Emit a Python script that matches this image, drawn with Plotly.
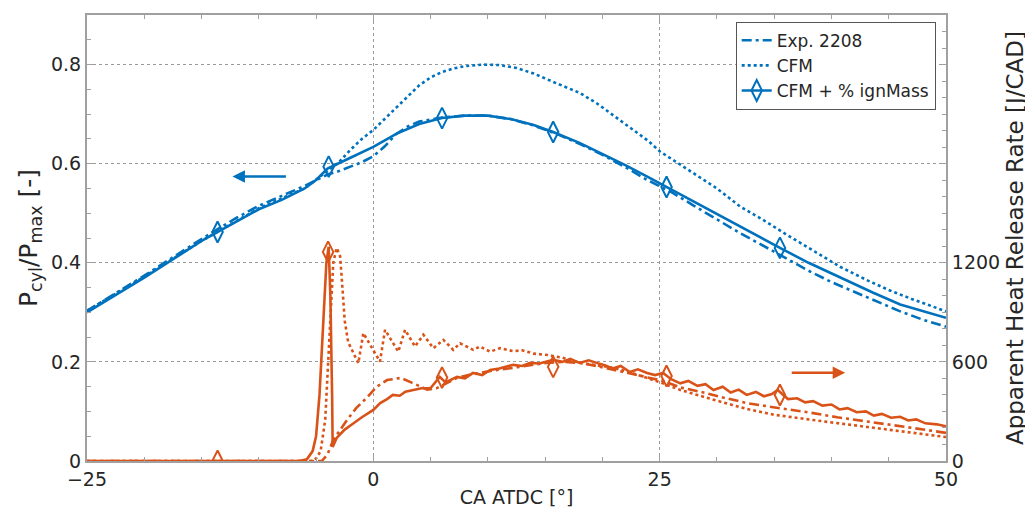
import plotly.graph_objects as go

BLUE = "#0072BD"
ORANGE = "#D95319"

# ---- Pressure (left axis, P_cyl/P_max [-]) ----
exp_p_x = [-25, -20, -15, -12, -10, -8, -6, -4, -3, -2, -1, 0, 1, 2, 3, 4, 6, 8, 10, 12, 14, 16, 18, 20, 22, 24, 26, 28, 30, 32, 35.5, 38, 40, 43.6, 46, 48, 50]
exp_p_y = [0.303, 0.374, 0.448, 0.49, 0.515, 0.535, 0.555, 0.578, 0.585, 0.594, 0.603, 0.615, 0.635, 0.66, 0.675, 0.685, 0.693, 0.697, 0.697, 0.69, 0.677, 0.66, 0.64, 0.618, 0.593, 0.566, 0.543, 0.515, 0.487, 0.46, 0.416, 0.384, 0.361, 0.325, 0.302, 0.285, 0.271]

cfm_p_x = [-25, -20, -15, -10, -6, -4, -3, -2, -1, 0, 1, 2, 3, 4, 5, 6, 7, 8, 9.6, 11, 12.5, 14, 15.5, 17, 18, 19.5, 21, 22.5, 24, 25, 26.8, 28, 30, 32, 34, 36, 38, 40.75, 43, 45, 47, 50]
cfm_p_y = [0.303, 0.372, 0.444, 0.51, 0.55, 0.585, 0.603, 0.628, 0.65, 0.668, 0.69, 0.712, 0.735, 0.758, 0.774, 0.785, 0.792, 0.797, 0.80, 0.799, 0.793, 0.782, 0.767, 0.752, 0.743, 0.722, 0.697, 0.672, 0.646, 0.625, 0.598, 0.58, 0.55, 0.514, 0.487, 0.458, 0.43, 0.392, 0.366, 0.345, 0.327, 0.302]

ign_p_x = [-25, -20, -15, -13.6, -10, -8, -6, -5, -4, -2, 0, 2, 4, 6, 8, 10, 12, 14, 15.7, 18, 20, 22, 24, 25.6, 28, 30, 32, 35.5, 38, 40, 43.6, 46, 48, 50]
ign_p_y = [0.30, 0.37, 0.444, 0.462, 0.508, 0.527, 0.55, 0.567, 0.59, 0.612, 0.634, 0.66, 0.68, 0.692, 0.697, 0.697, 0.69, 0.678, 0.664, 0.642, 0.62, 0.597, 0.573, 0.553, 0.523, 0.498, 0.474, 0.43, 0.40, 0.378, 0.34, 0.316, 0.302, 0.289]

ign_p_mx = [-13.6, -3.9, 6.0, 15.7, 25.6, 35.5]
ign_p_my = [0.462, 0.594, 0.692, 0.664, 0.553, 0.43]

# ---- Apparent heat release rate (right axis, J/CAD) ----
exp_h_x = [-25, -5, -4.5, -4, -3.5, -2.3, -1.5, -0.5, 0.3, 1.2, 2.4, 3.4, 4.7, 5.5, 6.3, 7.3, 8.3, 9.3, 10.5, 12.2, 13.5, 15.1, 16.5, 18.1, 19.5, 21, 22.5, 23.9, 25.3, 26.8, 28.5, 30.5, 32.6, 34.5, 36.5, 38.4, 40.5, 42.3, 44.2, 46.5, 48.3, 50]
exp_h_y = [0, 0, 0, 40, 127, 248, 320, 388, 450, 490, 503, 473, 432, 440, 470, 503, 520, 533, 548, 564, 578, 594, 600, 594, 575, 551, 530, 509, 485, 445, 420, 385, 351, 330, 310, 290, 265, 248, 230, 205, 188, 170]

cfm_h_x = [-25, -5.5, -5.0, -4.6, -4.2, -3.8, -3.5, -3.2, -2.9, -2.7, -2.5, -2.2, -1.74, -1.31, -0.87, 0.58, 1.02, 2.18, 2.77, 3.64, 4.37, 5.24, 6.11, 6.98, 7.57, 8.73, 9.31, 10.19, 11.06, 12.2, 13, 14, 15.2, 16.5, 18.1, 19.5, 21, 22.5, 23.9, 25.3, 26.8, 28, 30, 32.6, 35, 38.4, 41, 44.2, 47, 50]
cfm_h_y = [0, 0, 15, 60, 250, 800, 1200, 1290, 1240, 1050, 850, 720, 652, 592, 774, 602, 794, 662, 794, 693, 764, 683, 733, 673, 713, 673, 693, 662, 683, 665, 670, 650, 642, 625, 594, 580, 564, 535, 503, 470, 430, 405, 365, 315, 280, 248, 225, 200, 172, 145]

ign_h_x = [-25, -6.5, -5.8, -5.3, -5.0, -4.7, -4.4, -4.1, -3.9, -3.75, -3.6, -3.55, -3.2, -2.5, -2.0, -1, 0, 0.6, 1.2, 1.7, 2.3, 2.8, 3.5, 4.2, 5, 5.8, 6.3, 7.3, 8.0, 8.7, 9.5, 10.2, 11, 12.2, 13, 13.7, 14.5, 15.7, 16.5, 17.2, 18, 18.8, 19.5, 20.2, 20.9, 21.6, 22.4, 23.1, 23.9, 24.6, 25.3, 26, 26.8, 27.5, 28.3, 29, 29.7, 30.5, 31.2, 31.9, 32.6, 33.4, 34.1, 34.8, 35.3, 36.2, 37, 37.7, 38.4, 39.2, 40, 40.7, 41.4, 42.2, 43, 43.7, 44.4, 45.2, 46, 46.7, 47.4, 48.2, 49.2, 50]
ign_h_y = [0, 0, 10, 60, 150, 400, 800, 1200, 1297, 1000, 400, 85, 140, 190, 215, 265, 309, 351, 375, 400, 395, 420, 430, 440, 442, 509, 475, 509, 500, 533, 520, 551, 560, 582, 575, 594, 590, 612, 600, 618, 594, 610, 594, 580, 560, 575, 539, 555, 533, 520, 533, 495, 470, 485, 455, 465, 430, 450, 415, 432, 400, 418, 392, 405, 430, 375, 380, 355, 362, 335, 342, 312, 320, 295, 300, 275, 285, 262, 268, 245, 252, 228, 222, 210]

ign_h_mx = [-13.6, -3.95, 6.0, 15.7, 25.6, 35.5]
ign_h_my = [0, 1266, 505, 570, 515, 400]

# axis ticks
x_ticks = [-25, 0, 25, 50]
y_ticks = [0, 0.2, 0.4, 0.6, 0.8]
y_tick_text = ["0", "0.2", "0.4", "0.6", "0.8"]
y2_ticks = [0, 600, 1200]

# direction arrows (annotation anchors)
BLUE_ARROW = dict(x_from=-7.5, x_to=-12.3, y=0.574)
ORANGE_ARROW = dict(x_from=36.4, x_to=41.2, y=535)

FONT = "DejaVu Sans"
DASHDOT = "10px,4px,3px,4px"
LW = 2.6
MSIZE = 15

fig = go.Figure()

# orange HRR (right axis)
fig.add_trace(go.Scatter(x=exp_h_x, y=exp_h_y, yaxis="y2", mode="lines",
                         line=dict(color=ORANGE, width=LW, dash=DASHDOT), showlegend=False))
fig.add_trace(go.Scatter(x=cfm_h_x, y=cfm_h_y, yaxis="y2", mode="lines",
                         line=dict(color=ORANGE, width=LW, dash="dot"), showlegend=False))
fig.add_trace(go.Scatter(x=ign_h_x, y=ign_h_y, yaxis="y2", mode="lines",
                         line=dict(color=ORANGE, width=LW), showlegend=False))
fig.add_trace(go.Scatter(x=ign_h_mx, y=ign_h_my, yaxis="y2", mode="markers",
                         marker=dict(symbol="diamond-tall-open", size=MSIZE, color=ORANGE,
                                     line=dict(color=ORANGE, width=2)), showlegend=False))

# blue pressure (left axis)
fig.add_trace(go.Scatter(x=exp_p_x, y=exp_p_y, mode="lines", name="Exp. 2208",
                         line=dict(color=BLUE, width=LW, dash=DASHDOT)))
fig.add_trace(go.Scatter(x=cfm_p_x, y=cfm_p_y, mode="lines", name="CFM",
                         line=dict(color=BLUE, width=LW, dash="dot")))
fig.add_trace(go.Scatter(x=ign_p_x, y=ign_p_y, mode="lines", name="CFM + % ignMass",
                         line=dict(color=BLUE, width=LW), showlegend=False))
fig.add_trace(go.Scatter(x=ign_p_mx, y=ign_p_my, mode="markers", showlegend=False,
                         marker=dict(symbol="diamond-tall-open", size=MSIZE, color=BLUE,
                                     line=dict(color=BLUE, width=2))))
fig.add_trace(go.Scatter(x=[None], y=[None], mode="lines+markers", name="CFM + % ignMass",
                         line=dict(color=BLUE, width=LW),
                         marker=dict(symbol="diamond-tall-open", size=MSIZE, color=BLUE,
                                     line=dict(color=BLUE, width=2))))

AX = "#a0a0a0"
GRID = "#9a9a9a"
TXT = "#262626"

# page body has an 8px default margin: figure is sized/offset to compensate
fig.update_layout(
    width=1025, height=510,
    margin=dict(l=79, r=87, t=7, b=57, autoexpand=False),
    plot_bgcolor="white", paper_bgcolor="white",
    font=dict(family=FONT, size=19, color=TXT),
    showlegend=True,
    legend=dict(x=0.988, y=0.985, xanchor="right", yanchor="top",
                bgcolor="white", bordercolor="#555555", borderwidth=1,
                font=dict(family=FONT, size=17, color=TXT),
                tracegroupgap=0, itemwidth=30),
    xaxis=dict(range=[-25, 50], tickvals=x_ticks, ticktext=[str(v).replace("-", "\u2212") for v in x_ticks],
               ticks="inside", ticklen=6, tickcolor=AX, tickwidth=1, automargin=False,
               showline=True, linecolor=AX, linewidth=2, mirror="ticks",
               showgrid=True, gridcolor=GRID, griddash="dot", gridwidth=1, zeroline=False,
               minor=dict(dtick=5, tick0=0, ticks="inside", ticklen=4, tickcolor=AX, showgrid=False),
               title=dict(text="CA ATDC [°]", font=dict(size=19), standoff=2),
               tickfont=dict(size=19)),
    yaxis=dict(range=[0, 0.9], tickvals=y_ticks, ticktext=y_tick_text,
               ticks="inside", ticklen=6, tickcolor=AX, tickwidth=1, automargin=False,
               showline=True, linecolor=AX, linewidth=2, mirror=False,
               showgrid=True, gridcolor=GRID, griddash="dot", gridwidth=1, zeroline=False,
               minor=dict(dtick=0.05, tick0=0, ticks="inside", ticklen=4, tickcolor=AX, showgrid=False),
               title=dict(text="P<sub>cyl</sub>/P<sub>max</sub> [-]", font=dict(size=25), standoff=6),
               tickfont=dict(size=19)),
    yaxis2=dict(range=[0, 2700], tickvals=y2_ticks, overlaying="y", side="right",
                ticks="inside", ticklen=6, tickcolor=AX, tickwidth=1, automargin=False,
                showline=True, linecolor=AX, linewidth=2,
                showgrid=False, zeroline=False,
                minor=dict(dtick=100, tick0=0, ticks="inside", ticklen=4, tickcolor=AX, showgrid=False),
                title=dict(text="Apparent Heat Release Rate [J/CAD]", font=dict(size=23), standoff=8),
                tickfont=dict(size=19)),
)

fig.add_annotation(x=BLUE_ARROW["x_to"], y=BLUE_ARROW["y"], ax=BLUE_ARROW["x_from"], ay=BLUE_ARROW["y"],
                   xref="x", yref="y", axref="x", ayref="y", text="", showarrow=True,
                   arrowhead=2, arrowsize=1, arrowwidth=2.5, arrowcolor=BLUE)
fig.add_annotation(x=ORANGE_ARROW["x_to"], y=ORANGE_ARROW["y"], ax=ORANGE_ARROW["x_from"], ay=ORANGE_ARROW["y"],
                   xref="x", yref="y2", axref="x", ayref="y2", text="", showarrow=True,
                   arrowhead=2, arrowsize=1, arrowwidth=2.5, arrowcolor=ORANGE)

fig.write_html("out.html")
